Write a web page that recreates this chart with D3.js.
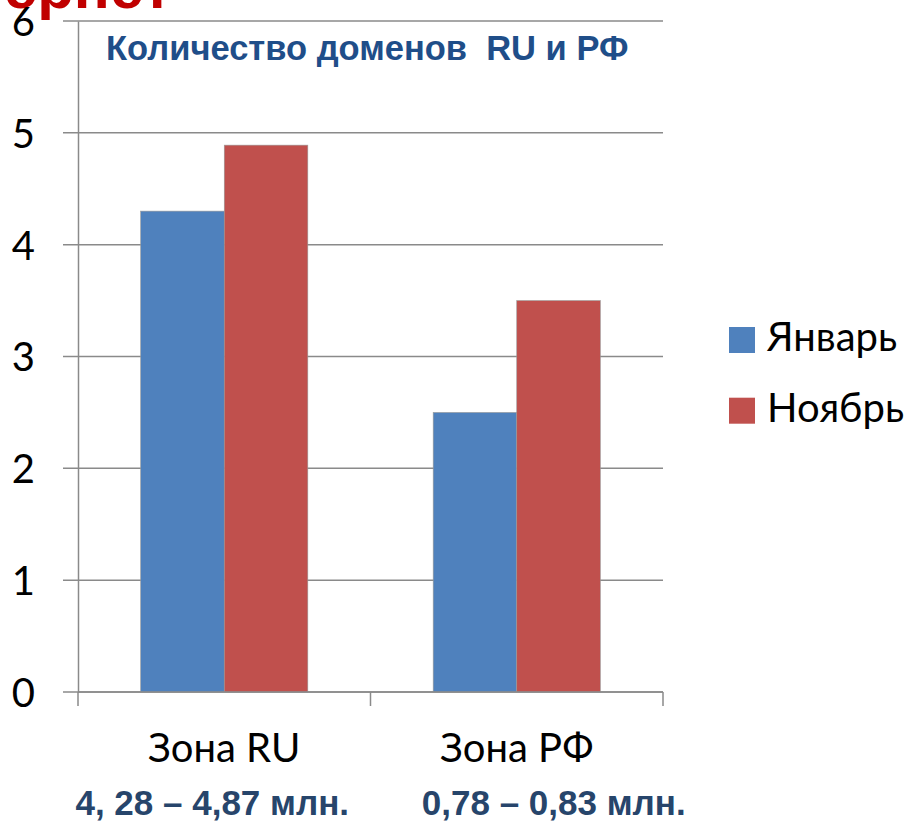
<!DOCTYPE html>
<html>
<head>
<meta charset="utf-8">
<script src="https://cdn.jsdelivr.net/npm/d3@7"></script>
<style>
  body { margin: 0; background: #fff; }
  #chart { width: 913px; height: 823px; }
  .tick text { font-family: Lato, "Open Sans", sans-serif; }
</style>
</head>
<body>
<div id="chart"></div>
<script>
// data
const categories = ["Зона RU", "Зона РФ"];
const series = ["Январь", "Ноябрь"];
const january = [4.3, 2.5];
const november = [4.89, 3.5];
const yTicks = [0, 1, 2, 3, 4, 5, 6];
const subtitles = ["4, 28 – 4,87 млн.", "0,78 – 0,83 млн."];
const colors = ["#4F81BD", "#C0504D"];

const width = 913;
const height = 823;

const svg = d3.select("#chart")
    .append("svg")
    .attr("width", width)
    .attr("height", height);

const margin = { top: 21, left: 78, right: 250, bottom: 131 };

const xScale = d3.scaleBand()
    .domain(categories)
    .range([margin.left, width - margin.right]);

const xSub = d3.scaleBand()
    .domain(series)
    .range([0, xScale.bandwidth()])
    .paddingOuter(0.75);

const yScale = d3.scaleLinear()
    .domain([0, 6])
    .range([height - margin.bottom, margin.top]);

// cropped slide heading behind the chart
svg.append("text")
    .attr("x", 172)
    .attr("y", 8)
    .attr("text-anchor", "end")
    .attr("font-family", "Liberation Sans, Arial, sans-serif")
    .attr("font-weight", "bold")
    .attr("font-size", 60)
    .attr("fill", "#C00000")
    .text("Интернет");

// gridlines
svg.append("g")
    .selectAll("line")
    .data(yTicks)
    .enter()
    .append("line")
        .attr("x1", margin.left - 15)
        .attr("x2", width - margin.right)
        .attr("y1", d => yScale(d))
        .attr("y2", d => yScale(d))
        .attr("stroke", "#8a8a8a")
        .attr("stroke-width", 1.5);

// bars
const rows = categories.map((c, i) => ({ cat: c, values: [january[i], november[i]] }));

svg.append("g")
    .selectAll("g")
    .data(rows)
    .enter()
    .append("g")
        .attr("transform", d => `translate(${xScale(d.cat)},0)`)
    .selectAll("rect")
    .data(d => d.values.map((v, j) => ({ key: series[j], value: v, j: j })))
    .enter()
    .append("rect")
        .attr("x", d => xSub(d.key))
        .attr("y", d => yScale(d.value))
        .attr("width", xSub.bandwidth())
        .attr("height", d => yScale(0) - yScale(d.value))
        .attr("fill", d => colors[d.j])
        .attr("stroke", "#9a9a9a")
        .attr("stroke-width", 0.6);

// y axis
const yAxis = svg.append("g")
    .attr("transform", `translate(${margin.left},0)`)
    .call(d3.axisLeft(yScale).tickValues(yTicks).tickFormat(d3.format("d")).tickSize(0).tickPadding(43));
yAxis.select(".domain").attr("stroke", "#8a8a8a").attr("stroke-width", 1.5);
yAxis.selectAll("text").attr("font-size", 40).attr("fill", "#000").attr("dy", "0.36em");

// x axis line + category boundary ticks
const x0 = yScale(0);
svg.append("line")
    .attr("x1", margin.left).attr("x2", width - margin.right)
    .attr("y1", x0).attr("y2", x0)
    .attr("stroke", "#8a8a8a").attr("stroke-width", 1.5);

const bounds = categories.map(c => xScale(c)).concat([xScale(categories[categories.length - 1]) + xScale.bandwidth()]);
svg.append("g")
    .selectAll("line")
    .data(bounds)
    .enter()
    .append("line")
        .attr("x1", d => d).attr("x2", d => d)
        .attr("y1", x0).attr("y2", x0 + 14)
        .attr("stroke", "#8a8a8a").attr("stroke-width", 1.5);

const xAxis = svg.append("g")
    .attr("transform", `translate(0,${x0})`)
    .call(d3.axisBottom(xScale).tickSize(0).tickPadding(42));
xAxis.select(".domain").remove();
xAxis.selectAll("text").attr("font-size", 40).attr("fill", "#000");

// numbers under categories (slide text boxes, not centred on the bands)
const subShift = [-12, 37];
svg.append("g")
    .selectAll("text")
    .data(categories)
    .enter()
    .append("text")
        .attr("x", (d, i) => xScale(d) + xScale.bandwidth() / 2 + subShift[i])
        .attr("y", 815)
        .attr("text-anchor", "middle")
        .attr("font-family", "Liberation Sans, Arial, sans-serif")
        .attr("font-weight", "bold")
        .attr("font-size", 35)
        .attr("fill", "#27456b")
        .text((d, i) => subtitles[i]);

// chart title
svg.append("text")
    .attr("x", 106)
    .attr("y", 60)
    .attr("font-family", "Liberation Sans, Arial, sans-serif")
    .attr("font-weight", "bold")
    .attr("font-size", 34.5)
    .attr("fill", "#1F4E89")
    .style("white-space", "pre")
    .text("Количество доменов  RU и РФ");

// legend
const legend = svg.append("g")
    .selectAll("g")
    .data(series)
    .enter()
    .append("g")
        .attr("transform", (d, i) => `translate(729,${327 + i * 70.7})`);

legend.append("rect")
    .attr("width", 26)
    .attr("height", 26)
    .attr("fill", (d, i) => colors[i]);

legend.append("text")
    .attr("x", 38)
    .attr("y", 24)
    .attr("font-family", "Lato, 'Open Sans', sans-serif")
    .attr("font-size", 40)
    .attr("fill", "#000")
    .text(d => d);
</script>
</body>
</html>
